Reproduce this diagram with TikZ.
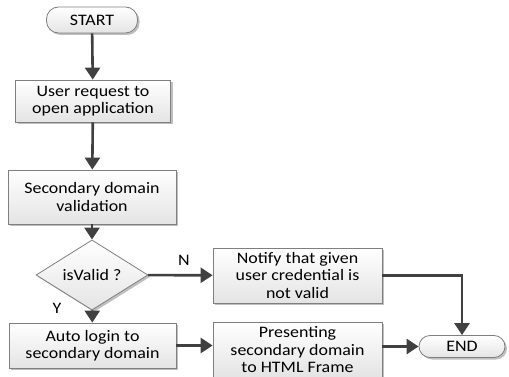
\documentclass[tikz,border=0pt]{standalone}
\usepackage{fontspec}
\setmainfont{Carlito}[FakeStretch=1.12]
\usetikzlibrary{shapes.geometric,arrows.meta,shadows}
\definecolor{bord}{HTML}{7F7F7F}
\definecolor{arr}{HTML}{404040}
\definecolor{boxbot}{HTML}{E4E4E4}
\begin{document}
\begin{tikzpicture}[x=1pt,y=-1pt,
  base/.style={draw=bord, line width=0.8pt, top color=white, bottom color=boxbot,
     drop shadow={shadow xshift=2pt, shadow yshift=-2pt, opacity=0.25, fill=black},
     align=center, inner sep=2pt,
     font=\fontsize{16}{17.5}\selectfont},
  procbox/.style={base, rectangle, minimum width=#1},
  term/.style={base, rectangle, rounded corners=12pt, minimum height=#1},
  decis/.style={base, diamond, minimum width=112pt, minimum height=50pt, inner sep=0pt},
  flow/.style={draw=arr, line width=2.6pt, -{Triangle[width=15pt,length=12pt]}},
  lbl/.style={font=\fontsize{16}{17.5}\selectfont}]
\useasboundingbox (0,0) rectangle (509,377);
\node[term=26pt, minimum width=91pt] (start) at (92,20) {START};
\node[procbox=155pt, minimum height=42pt] (req) at (93,101) {User request to\\open application};
\node[procbox=168pt, minimum height=54pt] (val) at (92,197) {Secondary domain\\validation};
\node[decis] (dec) at (92,275) {isValid ?};
\node[procbox=169pt, minimum height=55pt] (notify) at (297.5,275.5) {Notify that given\\user credential is\\not valid};
\node[procbox=167pt, minimum height=45pt] (auto) at (92.5,345.5) {Auto login to\\secondary domain};
\node[procbox=169pt, minimum height=56pt] (pres) at (297.5,350) {Presenting\\secondary domain\\to HTML Frame};
\node[term=22pt, minimum width=86pt, rounded corners=11pt] (end) at (462,346.5) {END};
\node[lbl] (nlab) at (184,260) {N};
\node[lbl] (ylab) at (57,308) {Y};
\draw[flow] (start) -- (req);
\draw[flow] (req) -- (val);
\draw[flow] (val) -- (dec);
\draw[flow] (dec) -- (notify);
\draw[flow] (dec) -- (auto);
\draw[flow] (auto.east) -- (auto.east -| pres.west);
\draw[flow] (pres.east |- end.west) -- (end);
\draw[flow] (notify.east) -| (end.north);
\end{tikzpicture}
\end{document}
